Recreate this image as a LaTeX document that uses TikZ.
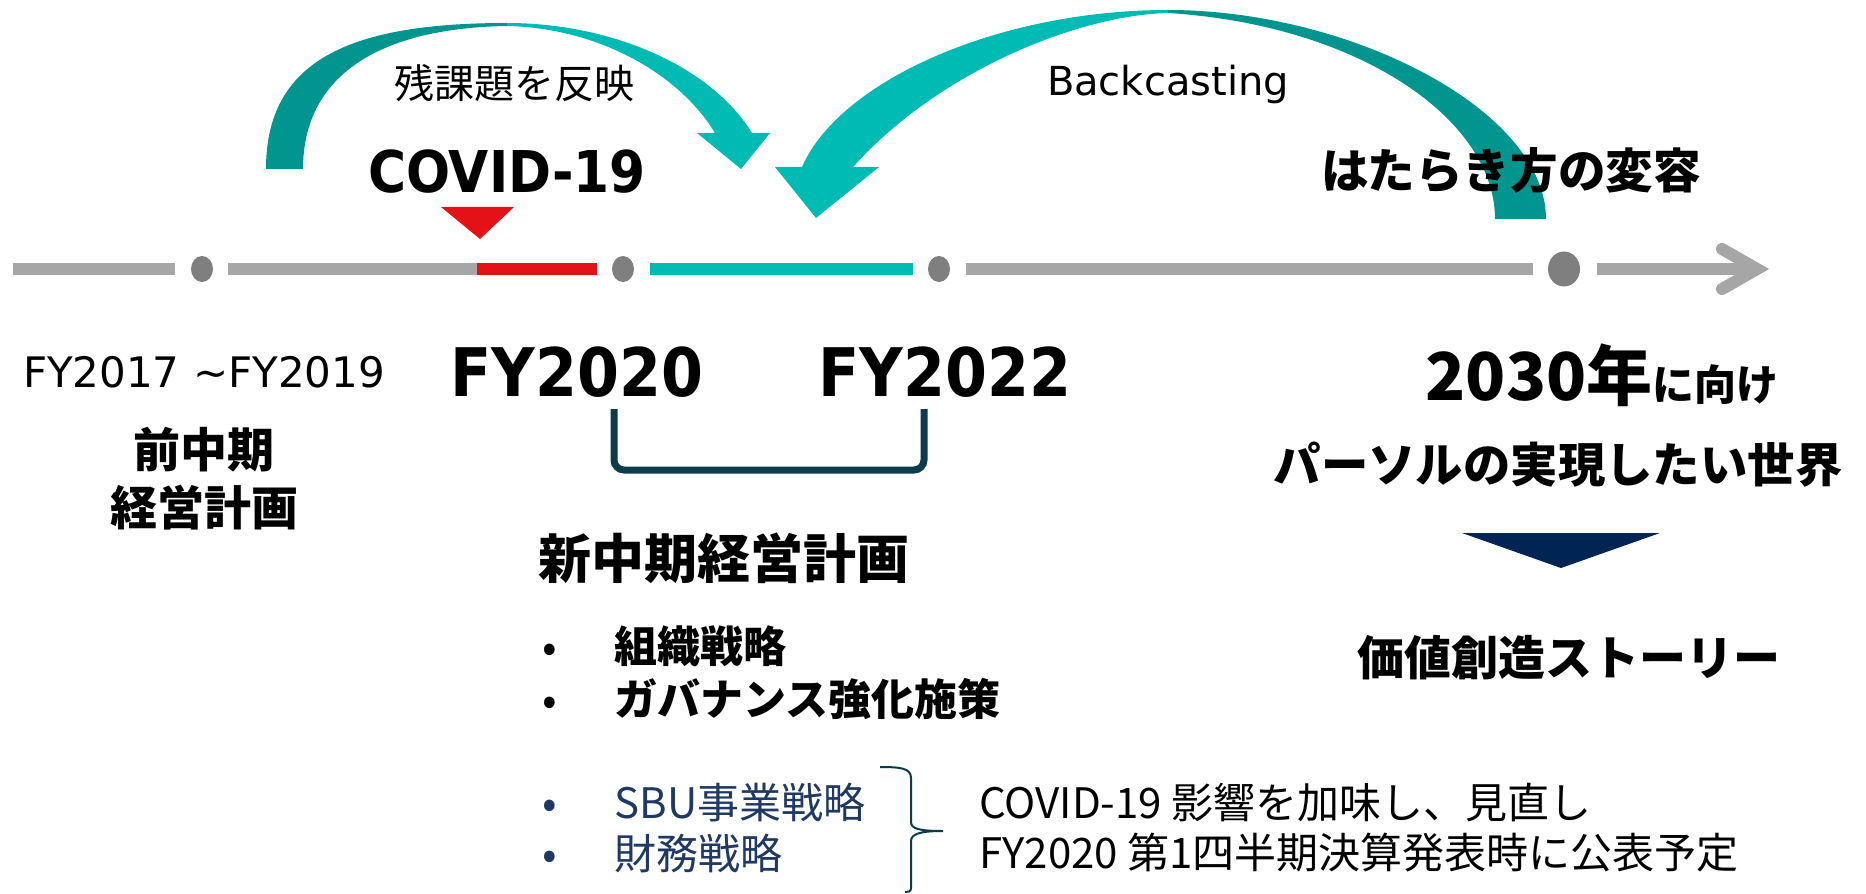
\documentclass[tikz,border=0pt]{standalone}
\usepackage{fontspec}
\setmainfont{Noto Sans CJK JP}
\newfontfamily\lat{DejaVu Sans}
\newfontfamily\latb{DejaVu Sans}[FakeStretch=0.9]
\newcommand\setfs[1]{\fontsize{#1}{#1}\selectfont}
\definecolor{tealL}{RGB}{0,187,180}
\definecolor{tealD}{RGB}{0,150,143}
\definecolor{tlgray}{RGB}{166,166,166}
\definecolor{dotgray}{RGB}{127,127,127}
\definecolor{covred}{RGB}{228,18,22}
\definecolor{brk}{RGB}{12,60,76}
\definecolor{navytri}{RGB}{0,37,84}
\definecolor{navytxt}{RGB}{31,56,100}
\begin{document}
\begin{tikzpicture}[x=0.5pt,y=-0.5pt,
  tl/.style={line width=6pt},
  txt/.style={inner sep=0pt, anchor=base},
  txtl/.style={inner sep=0pt, anchor=base west},
  dotsm/.style={fill=dotgray}]
\useasboundingbox[fill=white] (0,0) rectangle (1866,893);

% ---- left curved arrow (残課題を反映)
\fill[tealD] (266,169) .. controls (266,60) and (350,23) .. (507,23)
  -- (507,26) .. controls (380,28) and (303,75) .. (303,169) -- cycle;
\fill[tealL] (507,23) .. controls (610,23) and (710,65) .. (752,133)
  -- (770,133) -- (741,169) -- (697,133) -- (715,133)
  .. controls (680,75) and (600,28) .. (507,26) -- cycle;

% ---- big curved arrow (Backcasting)
\fill[tealL] (1168,10) .. controls (1000,10) and (840,80) .. (802,167)
  -- (775,167) -- (816,218) -- (879,167) -- (853,167)
  .. controls (940,70) and (1080,15) .. (1168,13) -- cycle;
\fill[tealD] (1168,10) .. controls (1350,10) and (1546,110) .. (1546,219)
  -- (1495,219) .. controls (1495,120) and (1360,25) .. (1168,13) -- cycle;

% ---- timeline
\draw[tl, tlgray] (13,269) -- (175,269);
\draw[tl, tlgray] (228,269) -- (477,269);
\draw[tl, covred] (477,269) -- (597,269);
\draw[tl, tealL] (650,269) -- (913,269);
\draw[tl, tlgray] (966,269) -- (1533,269);
\draw[tl, tlgray] (1597,269) -- (1750,269);
\draw[tl, tlgray, line cap=round, miter limit=10] (1722,249) -- (1757,269) -- (1722,289);
\fill[dotsm] (202,269) ellipse [x radius=11, y radius=13];
\fill[dotsm] (623,269) ellipse [x radius=11, y radius=13];
\fill[dotsm] (939,269) ellipse [x radius=11, y radius=13];
\fill[dotsm] (1564,269) ellipse [x radius=16, y radius=17.5];

% red marker
\fill[covred] (441,207) -- (514,207) -- (480,239) -- cycle;

% ---- top texts
\node[txt] (zan) at (514,99) {\setfs{20pt}残課題を反映};
\node[txt] (covid) at (507,192) {\latb\bfseries\setfs{28.8pt}COVID-19};
\node[txt] (back) at (1168,96) {\lat\setfs{20pt}Backcasting};
\node[txt] (hata) at (1511,189) {\bfseries\setfs{23.8pt}はたらき方の変容};

% ---- years
\node[txt] (fy17) at (204,387) {\lat\setfs{21pt}FY2017 \textasciitilde FY2019};
\node[txt] (fy20) at (577,396) {\latb\bfseries\setfs{33.5pt}FY2020};
\node[txt] (fy22) at (945,396) {\latb\bfseries\setfs{33.5pt}FY2022};
\node[txt] (zen1) at (204,467) {\bfseries\setfs{23.5pt}前中期};
\node[txt] (zen2) at (204,525) {\bfseries\setfs{23.5pt}経営計画};

% bracket under FY2020-FY2022
\draw[brk, line width=3.5pt, rounded corners=5pt] (614,409) -- (614,470) -- (924,470) -- (924,409);

% ---- new mid-term plan
\node[txtl] (shin) at (538,578) {\bfseries\setfs{26.5pt}新中期経営計画};
\node[txt] (b1) at (550,662) {\setfs{21.5pt}•};
\node[txtl] (i1) at (614,662) {\bfseries\setfs{21.5pt}組織戦略};
\node[txt] (b2) at (550,715) {\setfs{21.5pt}•};
\node[txtl] (i2) at (614,715) {\bfseries\setfs{21.5pt}ガバナンス強化施策};
\node[txt, text=navytxt] (b3) at (550,818) {\setfs{21.5pt}•};
\node[txtl, text=navytxt] (i3) at (614,818) {\setfs{21pt}SBU事業戦略};
\node[txt, text=navytxt] (b4) at (550,869) {\setfs{21.5pt}•};
\node[txtl, text=navytxt] (i4) at (614,869) {\setfs{21pt}財務戦略};

% brace
\draw[brk, line width=1pt] (880,767) .. controls (900,767) and (911,768) .. (911,778)
  -- (911,822) .. controls (911,829) and (920,831) .. (943,831)
  .. controls (920,831) and (911,834) .. (911,841) -- (911,888) .. controls (911,892) and (908,892) .. (905,892);

\node[txtl] (n1) at (979,818) {\setfs{21pt}COVID-19 影響を加味し、見直し};
\node[txtl] (n2) at (979,868) {\setfs{21pt}FY2020 第1四半期決算発表時に公表予定};

% ---- right side
\node[txt] (y2030) at (1602,400) {\bfseries{\setfs{33pt}2030年}{\setfs{21pt}に向け}};
\node[txt] (world) at (1558,482) {\bfseries\setfs{23.7pt}パーソルの実現したい世界};
\fill[navytri] (1462,533) -- (1660,533) -- (1561,568) -- cycle;
\node[txt] (story) at (1569,675) {\bfseries\setfs{23.5pt}価値創造ストーリー};
\end{tikzpicture}
\end{document}
